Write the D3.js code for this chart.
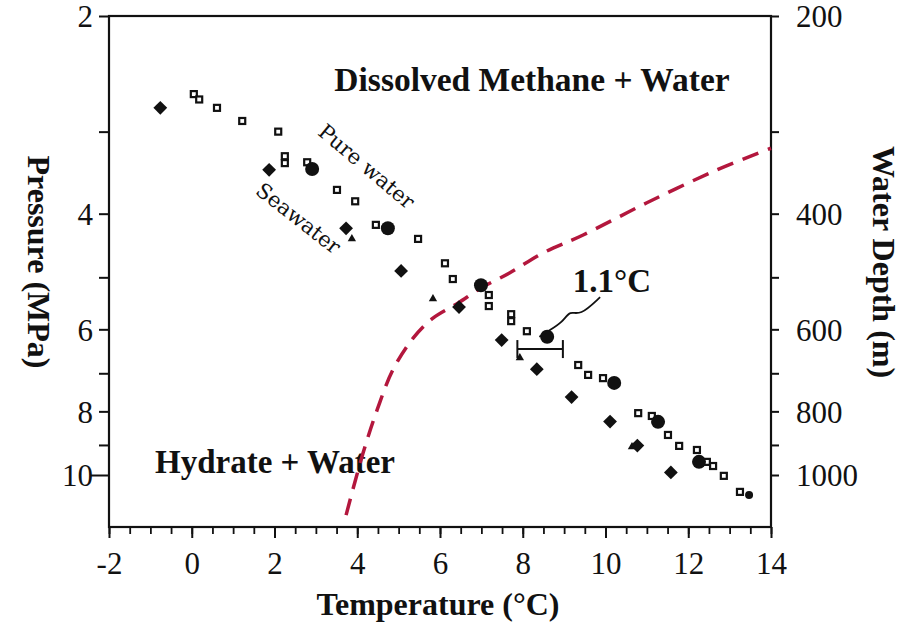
<!DOCTYPE html>
<html>
<head>
<meta charset="utf-8">
<script src="https://cdn.jsdelivr.net/npm/d3@7/dist/d3.min.js"></script>
<style>
  html, body { margin: 0; padding: 0; background: #fff; }
  svg { display: block; }
</style>
</head>
<body>
<div id="chart"></div>
<script>
// ---------------- DATA ----------------
// Seawater (filled diamonds): temperature (°C), pressure (MPa)
const seawaterT = [-0.76, 1.87, 3.73, 5.06, 6.46, 7.49, 8.34, 9.18, 10.11, 10.77, 11.58];
const seawaterP = [2.76, 3.43, 4.21, 4.89, 5.55, 6.23, 6.90, 7.61, 8.29, 9.02, 9.91];

// Pure water (small open squares)
const pureT = [0.05, 0.18, 0.61, 1.22, 2.09, 2.25, 2.25, 2.79, 3.51, 3.95, 4.45, 5.47, 6.12, 6.31,
               7.18, 7.18, 7.72, 7.72, 8.10, 9.34, 9.58, 9.94, 10.79, 11.12, 11.51, 11.78,
               12.21, 12.45, 12.60, 12.86, 13.25];
const pureP = [2.63, 2.68, 2.76, 2.89, 3.00, 3.27, 3.35, 3.34, 3.68, 3.83, 4.16, 4.37, 4.76, 5.03,
               5.32, 5.53, 5.69, 5.83, 6.04, 6.80, 7.04, 7.12, 8.05, 8.13, 8.69, 9.03,
               9.16, 9.55, 9.69, 10.03, 10.61];

// Pure water (large filled circles)
const circleT = [2.91, 4.74, 6.99, 8.59, 10.21, 11.27, 12.26];
const circleP = [3.42, 4.21, 5.14, 6.16, 7.24, 8.30, 9.55];
const smallCircleT = [13.47];
const smallCircleP = [10.73];

// Small filled triangles
const triT = [3.87, 5.83, 7.93, 10.64];
const triP = [4.37, 5.39, 6.63, 9.06];

// Red dashed profile
const profileT = [3.73, 4.14, 4.48, 4.86, 5.35, 5.83, 6.44, 6.97, 7.69, 8.49, 9.46, 11.00, 12.70, 14.0];
const profileP = [11.51, 9.26, 7.96, 6.92, 6.19, 5.77, 5.47, 5.20, 4.92, 4.59, 4.31, 3.85, 3.43, 3.18];

// 1.1 °C error bar and its leader
const errBarT = [7.87, 8.97];
const errBarP = 6.43;
const leaderT = [9.87, 9.38, 9.14, 8.97, 8.61, 8.40];
const leaderP = [5.36, 5.73, 5.61, 5.85, 6.04, 6.16];

// Axis ticks
const xMajorTicks = [-2, 0, 2, 4, 6, 8, 10, 12, 14];
const xMinorTicks = d3.range(-2, 14.01, 0.5);
const pTicks = [2, 3, 4, 5, 6, 7, 8, 9, 10];
const pLabels = [2, 4, 6, 8, 10];
const depthTicks = [200, 300, 400, 500, 600, 700, 800, 900, 1000];
const depthLabels = [200, 400, 600, 800, 1000];

// ---------------- CHART ----------------
const W = 907, H = 626;
const mLeft = 109, mRight = 771, mTop = 16, mBottom = 527;
const serif = "'Liberation Serif', 'Times New Roman', serif";
const red = "#b3173d";
const ink = "#111";

const svg = d3.select("#chart").append("svg").attr("width", W).attr("height", H);

const x = d3.scaleLinear().domain([-2, 14]).range([mLeft, mRight]);
const y = d3.scaleLog().domain([2, 12]).range([mTop, mBottom]);
const yDepth = d3.scaleLog().domain([200, 1200]).range([mTop, mBottom]);

// Frame
svg.append("rect").attr("x", mLeft).attr("y", mTop).attr("width", mRight - mLeft).attr("height", mBottom - mTop)
  .attr("fill", "none").attr("stroke", ink).attr("stroke-width", 2.2);

// X axis minor ticks
svg.append("g").attr("transform", `translate(0,${mBottom})`)
  .call(d3.axisBottom(x).tickValues(xMinorTicks).tickSize(7).tickFormat(""))
  .call(g => g.select(".domain").remove())
  .call(g => g.selectAll("line").attr("stroke", ink).attr("stroke-width", 1.8));
// X axis major ticks + labels
svg.append("g").attr("transform", `translate(0,${mBottom})`)
  .call(d3.axisBottom(x).tickValues(xMajorTicks).tickSize(11).tickPadding(14).tickFormat(d => String(d)))
  .call(g => g.select(".domain").remove())
  .call(g => g.selectAll("line").attr("stroke", ink).attr("stroke-width", 2))
  .call(g => g.selectAll("text").attr("fill", ink).style("font-family", serif).style("font-size", "31px"));

// Left pressure axis
svg.append("g").attr("transform", `translate(${mLeft},0)`)
  .call(d3.axisLeft(y).tickValues(pTicks).tickSize(10).tickPadding(10)
        .tickFormat(d => pLabels.includes(d) ? String(d) : ""))
  .call(g => g.select(".domain").remove())
  .call(g => g.selectAll("line").attr("stroke", ink).attr("stroke-width", 2)
        .attr("x2", d => d === 10 ? -18 : -10))
  .call(g => g.selectAll("text").attr("fill", ink).style("font-family", serif).style("font-size", "31px")
        .attr("x", -16).attr("dy", "0.35em"));

// Right depth axis
svg.append("g").attr("transform", `translate(${mRight},0)`)
  .call(d3.axisRight(yDepth).tickValues(depthTicks).tickSize(8).tickPadding(17)
        .tickFormat(d => depthLabels.includes(d) ? String(d) : ""))
  .call(g => g.select(".domain").remove())
  .call(g => g.selectAll("line").attr("stroke", ink).attr("stroke-width", 2))
  .call(g => g.selectAll("text").attr("fill", ink).style("font-family", serif).style("font-size", "31px")
        .attr("dy", "0.35em"));

// Axis titles
svg.append("text").attr("x", (mLeft + mRight) / 2 - 2).attr("y", 615).attr("text-anchor", "middle")
  .style("font-family", serif).style("font-size", "32px").style("font-weight", "bold").attr("fill", ink)
  .text("Temperature (°C)");
svg.append("text").attr("transform", `translate(28,262) rotate(90)`).attr("text-anchor", "middle")
  .style("font-family", serif).style("font-size", "32px").style("font-weight", "bold").attr("fill", ink)
  .text("Pressure (MPa)");
svg.append("text").attr("transform", `translate(873,262) rotate(90)`).attr("text-anchor", "middle")
  .style("font-family", serif).style("font-size", "32px").style("font-weight", "bold").attr("fill", ink)
  .text("Water Depth (m)");

// Region labels
svg.append("text").attr("x", 532).attr("y", 91).attr("text-anchor", "middle")
  .style("font-family", serif).style("font-size", "33.5px").style("font-weight", "bold").attr("fill", ink)
  .text("Dissolved Methane + Water");
svg.append("text").attr("x", 275).attr("y", 473).attr("text-anchor", "middle")
  .style("font-family", serif).style("font-size", "33px").style("font-weight", "bold").attr("fill", ink)
  .text("Hydrate + Water");
svg.append("text").attr("x", 612).attr("y", 292).attr("text-anchor", "middle")
  .style("font-family", serif).style("font-size", "33px").style("font-weight", "bold").attr("fill", ink)
  .text("1.1°C");

// Rotated series labels
svg.append("text").attr("transform", "translate(362,172) rotate(40)").attr("text-anchor", "middle")
  .style("font-family", "'DejaVu Serif', serif").style("font-size", "21px").attr("fill", ink)
  .text("Pure water");
svg.append("text").attr("transform", "translate(294,224) rotate(38)").attr("text-anchor", "middle")
  .style("font-family", "'DejaVu Serif', serif").style("font-size", "21px").attr("fill", ink)
  .text("Seawater");

// Red dashed profile
const profile = profileT.map((t, i) => [t, profileP[i]]);
svg.append("path").datum(profile)
  .attr("d", d3.line().x(d => x(d[0])).y(d => y(d[1])).curve(d3.curveCatmullRom))
  .attr("fill", "none").attr("stroke", red).attr("stroke-width", 3.5).attr("stroke-dasharray", "17,10");

// Open squares (pure water)
const pure = pureT.map((t, i) => [t, pureP[i]]);
svg.append("g").selectAll("rect").data(pure).join("rect")
  .attr("x", d => x(d[0]) - 3).attr("y", d => y(d[1]) - 3).attr("width", 6).attr("height", 6)
  .attr("fill", "#fff").attr("stroke", ink).attr("stroke-width", 2.2);

// Filled circles
const circles = circleT.map((t, i) => [t, circleP[i]]);
svg.append("g").selectAll("circle").data(circles).join("circle")
  .attr("cx", d => x(d[0])).attr("cy", d => y(d[1])).attr("r", 7).attr("fill", ink);
const smallCircles = smallCircleT.map((t, i) => [t, smallCircleP[i]]);
svg.append("g").selectAll("circle").data(smallCircles).join("circle")
  .attr("cx", d => x(d[0])).attr("cy", d => y(d[1])).attr("r", 4).attr("fill", ink);

// Triangles
const tris = triT.map((t, i) => [t, triP[i]]);
svg.append("g").selectAll("path").data(tris).join("path")
  .attr("transform", d => `translate(${x(d[0])},${y(d[1])})`)
  .attr("d", d3.symbol().type(d3.symbolTriangle).size(30)).attr("fill", ink);

// Diamonds (seawater)
const sea = seawaterT.map((t, i) => [t, seawaterP[i]]);
svg.append("g").selectAll("path").data(sea).join("path")
  .attr("transform", d => `translate(${x(d[0])},${y(d[1])}) rotate(45)`)
  .attr("d", d3.symbol().type(d3.symbolSquare).size(95)).attr("fill", ink);

// Error bar
const ey = y(errBarP);
const eb = svg.append("g").attr("stroke", ink).attr("stroke-width", 2);
eb.append("line").attr("x1", x(errBarT[0])).attr("x2", x(errBarT[1])).attr("y1", ey).attr("y2", ey);
errBarT.forEach(t => eb.append("line").attr("x1", x(t)).attr("x2", x(t)).attr("y1", ey - 9).attr("y2", ey + 9));

// Leader
const leader = leaderT.map((t, i) => [t, leaderP[i]]);
svg.append("path").datum(leader)
  .attr("d", d3.line().x(d => x(d[0])).y(d => y(d[1])).curve(d3.curveBasis))
  .attr("fill", "none").attr("stroke", ink).attr("stroke-width", 1.8);
</script>
</body>
</html>
